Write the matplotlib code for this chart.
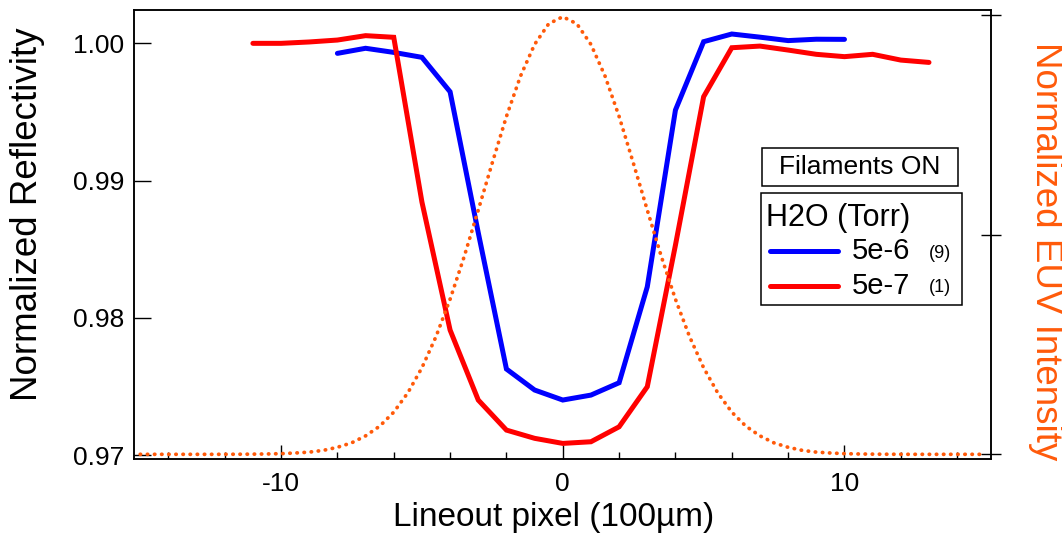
import numpy as np
import matplotlib
matplotlib.use('Agg')
import matplotlib.pyplot as plt
from matplotlib.patches import Rectangle
from matplotlib.lines import Line2D

plt.rcParams['font.family'] = ['Liberation Sans', 'DejaVu Sans']
plt.rcParams['axes.unicode_minus'] = False

# reflectivity lineouts
x_blue = list(range(-8, 11))
y_blue = [0.99927, 0.99964, 0.99934, 0.99898, 0.99647, 0.9862, 0.97627, 0.97474,
          0.97401, 0.97437, 0.97527, 0.98226, 0.99514, 1.00012, 1.00068, 1.00045,
          1.00020, 1.00030, 1.00029]

x_red = list(range(-11, 14))
y_red = [1.0000, 1.0000, 1.0001, 1.00024, 1.00056, 1.00044, 0.98844, 0.97911,
         0.97401, 0.97182, 0.97122, 0.97085, 0.97097, 0.97206, 0.97498, 0.9853,
         0.99611, 0.99968, 0.9998, 0.99951, 0.99920, 0.99903, 0.99920, 0.99878,
         0.99861]

# EUV intensity profile, read at half-pixel steps (right axis)
x_euv = [v / 2 for v in range(-30, 31)]
euv_half = [0.996, 0.980, 0.933, 0.861, 0.769, 0.664, 0.556, 0.450, 0.353, 0.268,
            0.197, 0.140, 0.096, 0.064, 0.042, 0.026, 0.016, 0.009, 0.005, 0.003,
            0.0015, 0.0008, 0.0004, 0.0002, 0.0001, 0.0, 0.0, 0.0, 0.0, 0.0, 0.0]
y_euv = euv_half[::-1] + euv_half[1:]

fig = plt.figure(figsize=(10.62, 5.40), dpi=100)
ax = fig.add_axes([0.1262, 0.1494, 0.8069, 0.8321])

ax.plot(x_blue, y_blue, color='#0000ff', lw=3.6, solid_capstyle='round', solid_joinstyle='miter')
ax.plot(x_red, y_red, color='#ff0000', lw=3.6, solid_capstyle='round', solid_joinstyle='miter')

ax.set_xlim(-15.22, 15.2)
ax.set_ylim(0.96969, 1.00243)
ax.set_yticks([0.97, 0.98, 0.99, 1.00])
ax.set_yticklabels(['0.97', '0.98', '0.99', '1.00'])
ax.set_xticks([-10, 0, 10])
ax.set_xticks([-14, -12, -8, -6, -4, -2, 2, 4, 6, 8, 12, 14], minor=True)
ax.tick_params(axis='x', which='major', direction='in', length=10, width=1, labelsize=19, pad=9)
ax.tick_params(axis='x', which='minor', direction='in', length=5, width=1)
ax.tick_params(axis='y', which='major', direction='in', length=12, width=1, labelsize=19, pad=7)
for s in ax.spines.values():
    s.set_linewidth(1.1)

ax.set_xlabel('Lineout pixel (100µm)', fontsize=24)
ax.xaxis.set_label_coords(0.49, -0.095)
ax.set_ylabel('Normalized Reflectivity', fontsize=26.5)
ax.yaxis.set_label_coords(-0.104, 0.546)

ax2 = ax.twinx()
ax2.plot(x_euv, y_euv, color='#ff5a0a', lw=2.7, linestyle=(0, (0.1, 1.8)), dash_capstyle='round')
ax2.set_ylim(-0.0114, 1.0114)
ax2.set_yticks([0, 0.5, 1.0])
ax2.set_yticklabels([])
ax2.tick_params(axis='y', direction='inout', length=14.4, width=1)
for s in ax2.spines.values():
    s.set_linewidth(1.1)
ax2.set_ylabel('Normalized EUV Intensity', fontsize=26.5, color='#ff5a0a', rotation=270)
ax2.yaxis.set_label_coords(1.084, 0.464)

W, H = 1062, 540


def fx(px):
    return px / W


def fy(py):
    return 1 - py / H


# "Filaments ON" box
fig.patches.append(Rectangle((fx(762), fy(186)), fx(958) - fx(762), fy(148) - fy(186),
                             transform=fig.transFigure, fill=False, lw=1.1, ec='black'))
fig.text(fx(860), fy(167), 'Filaments ON', fontsize=19, ha='center', va='center')

# legend box
fig.patches.append(Rectangle((fx(761), fy(305)), fx(962) - fx(761), fy(193) - fy(305),
                             transform=fig.transFigure, fill=False, lw=1.1, ec='black'))
fig.text(fx(766), fy(218), 'H2O (Torr)', fontsize=22, ha='left', va='center')
fig.lines.append(Line2D([fx(770), fx(838)], [fy(251), fy(251)], transform=fig.transFigure,
                        color='#0000ff', lw=3.6, solid_capstyle='round'))
fig.lines.append(Line2D([fx(770), fx(838)], [fy(286), fy(286)], transform=fig.transFigure,
                        color='#ff0000', lw=3.6, solid_capstyle='round'))
fig.text(fx(852), fy(251), '5e-6', fontsize=21, ha='left', va='center')
fig.text(fx(852), fy(286), '5e-7', fontsize=21, ha='left', va='center')
fig.text(fx(929), fy(253), '(9)', fontsize=13, ha='left', va='center')
fig.text(fx(929), fy(288), '(1)', fontsize=13, ha='left', va='center')

fig.savefig('out.png', dpi=100)
